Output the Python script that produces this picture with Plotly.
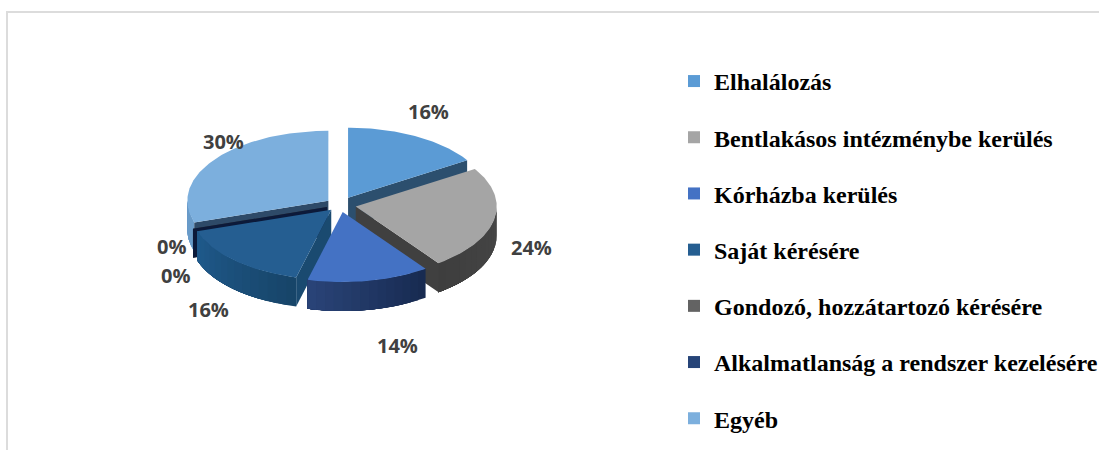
import math
import plotly.graph_objects as go

# ---- data ----
categories = ["Elhalálozás", "Bentlakásos intézménybe kerülés", "Kórházba kerülés", "Saját kérésére",
              "Gondozó, hozzátartozó kérésére", "Alkalmatlanság a rendszer kezelésére", "Egyéb"]
values = [16, 24, 14, 16, 0, 0, 30]

# ---- styles ----
top_colors = ["#5b9bd5", "#a5a5a5", "#4472c4", "#255e91", "#636363", "#264478", "#7cafdd"]
legend_colors = top_colors
face_colors = ["#2c4f6e", "#404040", "#1c3360", "#1a4a70", "#333333", "#0c1a3a", "#2e4a68"]
wall_start = ["#3a6fa0", "#464646", "#172a50", "#174468", "#333333", "#0c1a3a", "#6a9bc9"]
wall_end = ["#3a6fa0", "#3e3e3e", "#2a4478", "#1f5a8c", "#333333", "#0c1a3a", "#6a9bc9"]
pull = [1.05, 1.0, 0.9, 0.8, 0.85, 0.85, 0.9]
draw_order = [6, 0, 4, 5, 1, 3, 2]
label_xy = [(428, 111), (531, 247), (397, 345), (208, 309), (175, 275), (171, 246), (223, 141)]
CX, CY, A, B, DEPTH = 340, 205, 141, 70, 29
PULL_X, PULL_Y = 16, 8
FRAME = "#dcdcdc"


def mix(c1, c2, t):
    a = [int(c1[i:i + 2], 16) for i in (1, 3, 5)]
    b = [int(c2[i:i + 2], 16) for i in (1, 3, 5)]
    return "rgb(%d,%d,%d)" % tuple(round(p + (q - p) * t) for p, q in zip(a, b))


def pt(apex, deg, dz=0):
    r = math.radians(deg)
    return apex[0] + A * math.sin(r), apex[1] - B * math.cos(r) + dz


def poly(fig, pts, color):
    fig.add_trace(go.Scatter(x=[p[0] for p in pts] + [pts[0][0]], y=[p[1] for p in pts] + [pts[0][1]],
                             mode="lines", fill="toself", fillcolor=color,
                             line=dict(width=0), showlegend=False, hoverinfo="skip"))


total = sum(values)
starts, c = [], 0
for v in values:
    starts.append(c * 360 / total)
    c += v

fig = go.Figure()
for i in draw_order:
    s = starts[i]
    e = s + values[i] * 360 / total
    m = math.radians((s + e) / 2)
    apex = (CX + PULL_X * pull[i] * math.sin(m), CY - PULL_Y * pull[i] * math.cos(m))
    # outer wall, only the part that faces the viewer; bands overlap so no seams show
    ws, we = max(s, 90), min(e, 270)
    if we > ws:
        n = 14
        for k in range(n):
            a0 = ws + (we - ws) * k / n
            a1 = we
            arc = [a0 + (a1 - a0) * j / 12 for j in range(13)]
            poly(fig, [pt(apex, a) for a in arc] + [pt(apex, a, DEPTH) for a in reversed(arc)],
                 mix(wall_start[i], wall_end[i], (k + .5) / n))
    # cut faces
    for ang, show in ((s, 180 < s < 360), (e, 0 < e < 180)):
        if show:
            poly(fig, [apex, pt(apex, ang), pt(apex, ang, DEPTH), (apex[0], apex[1] + DEPTH)], face_colors[i])
    # top
    if e > s:
        n = max(int(e - s), 2)
        poly(fig, [apex] + [pt(apex, s + (e - s) * k / n) for k in range(n + 1)], top_colors[i])

for v, (lx, ly) in zip(values, label_xy):
    fig.add_annotation(x=lx, y=ly, text=f"{v}%", showarrow=False,
                       font=dict(family="Open Sans", size=20, color="#404040", weight=700))

for name, col in zip(categories, legend_colors):
    fig.add_trace(go.Scatter(x=[None], y=[None], mode="markers", name=name, legendgroup=name,
                             marker=dict(symbol="square", size=12, color=col)))

fig.add_shape(type="line", xref="paper", yref="paper", x0=7 / 1099, x1=7 / 1099, y0=0, y1=438 / 450,
              line=dict(color=FRAME, width=2))
fig.add_shape(type="line", xref="paper", yref="paper", x0=6 / 1099, x1=1, y0=438 / 450, y1=438 / 450,
              line=dict(color=FRAME, width=2))

fig.update_layout(
    width=1099, height=450, margin=dict(l=0, r=0, t=0, b=0, autoexpand=False),
    paper_bgcolor="white", plot_bgcolor="white",
    xaxis=dict(range=[0, 1099], visible=False, fixedrange=True),
    yaxis=dict(range=[450, 0], visible=False, fixedrange=True),
    legend=dict(x=0.6133, y=0.869, xanchor="left", yanchor="top",
                tracegroupgap=22, itemsizing="constant",
                font=dict(family="Liberation Serif", size=24, color="#000000", weight=700),
                bgcolor="rgba(0,0,0,0)", traceorder="grouped"),
)
fig.write_html("out.html", post_script="document.body.style.margin='0';", config={"displayModeBar": False})
